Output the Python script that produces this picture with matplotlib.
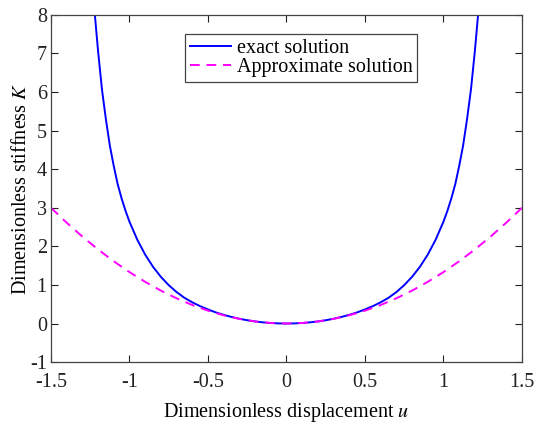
import matplotlib
matplotlib.use("Agg")
import matplotlib.pyplot as plt

# Exact solution (symmetric in u)
u_exact_pos = [0.00, 0.05, 0.10, 0.15, 0.20, 0.25, 0.30, 0.35, 0.40, 0.45, 0.50,
               0.55, 0.60, 0.65, 0.70, 0.75, 0.80, 0.85, 0.90, 0.95, 1.00,
               1.025, 1.05, 1.075, 1.10, 1.125, 1.15, 1.175, 1.20, 1.22, 1.24]
k_exact_pos = [0.000, 0.003, 0.013, 0.030, 0.054, 0.085, 0.124, 0.170, 0.225, 0.288, 0.365,
               0.450, 0.550, 0.667, 0.815, 0.995, 1.210, 1.470, 1.786, 2.170, 2.640,
               2.920, 3.240, 3.610, 4.080, 4.610, 5.290, 6.060, 7.060, 7.980, 9.070]

# Approximate solution (symmetric in u)
u_approx_pos = [0.0, 0.1, 0.2, 0.3, 0.4, 0.5, 0.6, 0.7, 0.8, 0.9, 1.0,
                1.1, 1.2, 1.3, 1.4, 1.5]
k_approx_pos = [0.00, 0.013, 0.053, 0.12, 0.213, 0.333, 0.48, 0.653, 0.853, 1.08, 1.333,
                1.613, 1.92, 2.253, 2.613, 3.00]

x_ticks = [-1.5, -1, -0.5, 0, 0.5, 1, 1.5]
x_ticklabels = ["-1.5", "-1", "-0.5", "0", "0.5", "1", "1.5"]
y_ticks = [-1, 0, 1, 2, 3, 4, 5, 6, 7, 8]
y_ticklabels = ["-1", "0", "1", "2", "3", "4", "5", "6", "7", "8"]

u_exact = [-v for v in reversed(u_exact_pos[1:])] + u_exact_pos
k_exact = list(reversed(k_exact_pos[1:])) + k_exact_pos
u_approx = [-v for v in reversed(u_approx_pos[1:])] + u_approx_pos
k_approx = list(reversed(k_approx_pos[1:])) + k_approx_pos

plt.rcParams['font.family'] = ['Liberation Serif', 'DejaVu Serif']
plt.rcParams['mathtext.fontset'] = 'stix'

FS = 14.5

fig = plt.figure(figsize=(5.36, 4.25), dpi=100)
ax = fig.add_axes([0.0951, 0.148, 0.8787, 0.817])

ax.plot(u_exact, k_exact, color=(0, 0, 1), lw=1.4, label='exact solution')
ax.plot(u_approx, k_approx, color=(1, 0, 1), lw=1.4, ls=(0, (5, 3.5)), label='Approximate solution')

ax.set_xlim(-1.5, 1.5)
ax.set_ylim(-1, 8)
ax.set_xticks(x_ticks)
ax.set_xticklabels(x_ticklabels)
ax.set_yticks(y_ticks)
ax.set_yticklabels(y_ticklabels)
ax.tick_params(direction='in', top=True, right=True, length=5, width=0.8,
               labelsize=FS, colors='#222222')
ax.tick_params(axis='x', pad=8)
ax.tick_params(axis='y', pad=3)
for s in ax.spines.values():
    s.set_color('#444444')
    s.set_linewidth(0.9)

ax.set_xlabel('Dimensionless displacement $u$', fontsize=FS, labelpad=6)
ax.set_ylabel('Dimensionless stiffness $K$', fontsize=FS, labelpad=-1)

leg = ax.legend(loc='upper left', bbox_to_anchor=(0.285, 0.945), fontsize=FS,
                frameon=True, fancybox=False, edgecolor='#444444', framealpha=1,
                handlelength=2.0, handletextpad=0.3, borderpad=0.25, labelspacing=0.0,
                borderaxespad=0)
leg.get_frame().set_linewidth(0.9)

fig.savefig('out.png', dpi=100)
